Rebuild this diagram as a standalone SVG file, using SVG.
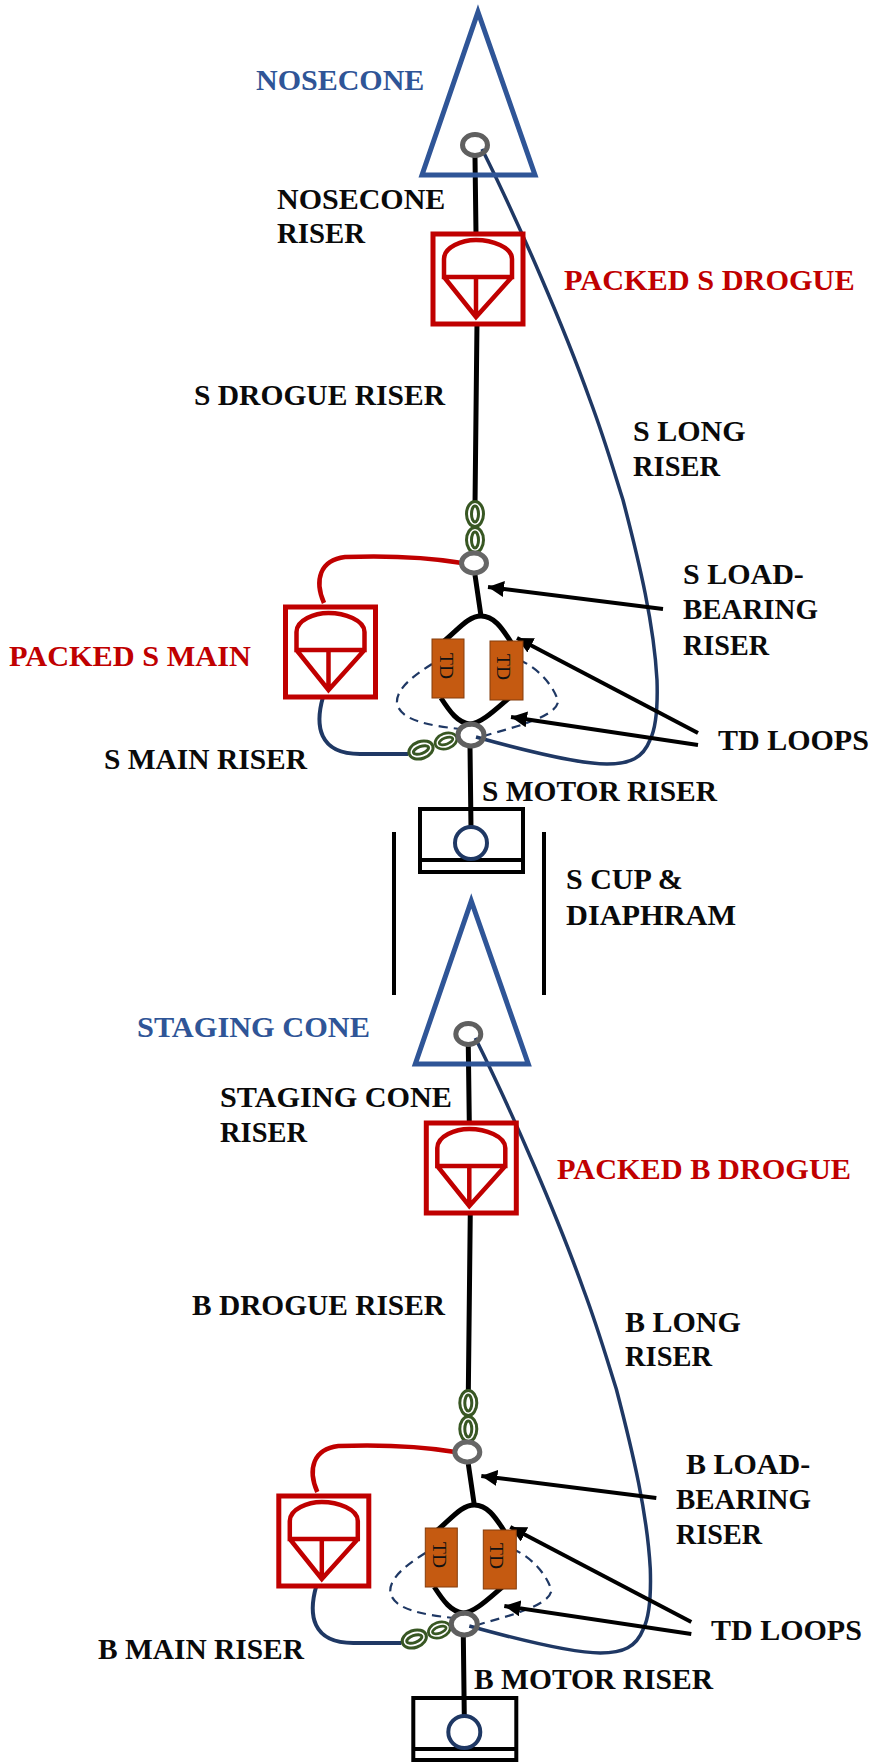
<svg xmlns="http://www.w3.org/2000/svg" width="872" height="1762" viewBox="0 0 872 1762">
<style>
text{font-family:"Liberation Serif","Times New Roman",serif;font-size:30px;font-weight:bold;fill:#0a0a0a;lengthAdjust:spacingAndGlyphs}
.b{fill:#2f5597}text.r{fill:#c00000;font-size:30.3px}
.cone{fill:none;stroke:#2f5597;stroke-width:5}
.ring{fill:#fff;stroke:#666;stroke-width:5}
.ringo{fill:none;stroke:#5f5f5f;stroke-width:5}
.k{fill:none;stroke:#000;stroke-width:5}
.k4{fill:none;stroke:#000;stroke-width:4}
.red{fill:none;stroke:#c00000;stroke-width:4.5}
.navy{fill:none;stroke:#1f3864;stroke-width:4}
.thin{fill:none;stroke:#1f3864;stroke-width:3.5}
.dash{fill:none;stroke:#1f3864;stroke-width:2.2;stroke-dasharray:9 6}
.box{fill:#fff;stroke:#c00000;stroke-width:5}
.o{fill:#fff;stroke:#385723;stroke-width:3}
.td{fill:#c55a11;stroke:#843c0c;stroke-width:1}
text.tdt{font-size:19.5px;font-weight:normal;fill:#111;text-anchor:middle}
.arr{fill:none;stroke:#000;stroke-width:4;marker-end:url(#ah)}
</style>
<defs>
<marker id="ah" markerUnits="userSpaceOnUse" markerWidth="17" markerHeight="16" refX="16" refY="8" orient="auto"><path d="M0 0L16 8L0 16Z" fill="#000"/></marker>
<g id="chute">
<rect class="box" x="-45" y="-45" width="90" height="90"/>
<path class="red" d="M-34 -2V-20C-34 -32 -16 -39 -2 -39C14 -39 34 -32 34 -20V-2ZM-34 -2L-2 38L34 -2M-2 -2V38"/>
</g>
<g id="link"><ellipse class="o" rx="8.5" ry="12.5"/><ellipse class="o" rx="3.5" ry="8"/></g>
<g id="section-connectors">
<path class="k" d="M475 157L476 234M477 322L475 505M475 575L481 616"/>
<path class="k" d="M443 642C458 630 468 616 481 616C495 616 503 630 511 642M441 698C450 712 458 723 470 724C482 723 497 708 509 698M470 746L471 828"/>
<path class="red" d="M462 563C420 556 373 556 345 557C320 560 314 580 324 603"/>
<path class="navy" d="M323 697C315 725 318 754 360 754L408 754"/>
<path class="thin" d="M482 149C520 225 565 330 590 400C605 440 615 475 623 500C640 565 654 625 657 680C658 710 655 730 650 740C643 758 630 764 607 764C580 764 530 752 476 737"/>
<path class="dash" d="M432 664C410 678 396 690 397 703C400 722 435 726 460 729M519 660C540 668 556 690 558 702C555 718 510 728 484 736"/>
<path class="arr" d="M663 609L488 587"/>
<path class="arr" d="M698 733L517 638"/>
<path class="arr" d="M698 745L511 717"/>
</g>
</defs>

<g id="connectors">
<use id="s-connectors" href="#section-connectors"/>
<use id="b-connectors" href="#section-connectors" transform="translate(-6.7 889)"/>
</g>

<g id="nosecone"><path class="cone" d="M478 12L535 175H422Z"/><ellipse class="ringo" cx="475" cy="145" rx="12.5" ry="10.5"/></g>
<g id="s-drogue-pack"><use href="#chute" x="478" y="279"/></g>
<g id="s-links-upper"><use href="#link" x="475" y="514"/><use href="#link" x="475" y="540"/></g>
<g id="s-ring-upper"><ellipse class="ring" cx="474" cy="563" rx="12.5" ry="10"/></g>
<g id="s-main-pack"><use href="#chute" x="330.5" y="652"/></g>
<g id="s-td-left"><rect class="td" x="432" y="639" width="32" height="59"/><text class="tdt" transform="translate(440 666) rotate(90)">TD</text></g>
<g id="s-td-right"><rect class="td" x="490" y="641" width="33" height="59"/><text class="tdt" transform="translate(497 667) rotate(90)">TD</text></g>
<g id="s-links-lower"><use href="#link" transform="translate(421 750) rotate(70)"/><use href="#link" transform="translate(446 741) rotate(70) scale(.9)"/></g>
<g id="s-ring-lower"><ellipse class="ringo" cx="471" cy="735" rx="13" ry="11"/></g>
<g id="s-cup"><rect class="k4" x="420" y="809" width="103" height="63"/><path class="k4" d="M420 860H523"/><circle cx="471" cy="843" r="16" fill="#fff" stroke="#1f3864" stroke-width="4"/></g>
<g id="s-cup-walls"><path class="k4" d="M394 832V995M544 832V995"/></g>

<g id="staging-cone"><path class="cone" d="M471.3 901L528.3 1064H415.3Z"/><ellipse class="ringo" cx="468.3" cy="1034" rx="12.5" ry="10.5"/></g>
<g id="b-drogue-pack"><use href="#chute" x="471.3" y="1168"/></g>
<g id="b-links-upper"><use href="#link" x="468.3" y="1403"/><use href="#link" x="468.3" y="1429"/></g>
<g id="b-ring-upper"><ellipse class="ring" cx="467.3" cy="1452" rx="12.5" ry="10"/></g>
<g id="b-main-pack"><use href="#chute" x="323.8" y="1541"/></g>
<g id="b-td-left"><rect class="td" x="425.3" y="1528" width="32" height="59"/><text class="tdt" transform="translate(433.3 1555) rotate(90)">TD</text></g>
<g id="b-td-right"><rect class="td" x="483.3" y="1530" width="33" height="59"/><text class="tdt" transform="translate(490.3 1556) rotate(90)">TD</text></g>
<g id="b-links-lower"><use href="#link" transform="translate(414.3 1639) rotate(70)"/><use href="#link" transform="translate(439.3 1630) rotate(70) scale(.9)"/></g>
<g id="b-ring-lower"><ellipse class="ringo" cx="464.3" cy="1624" rx="13" ry="11"/></g>
<g id="b-cup"><rect class="k4" x="413.3" y="1698" width="103" height="62"/><path class="k4" d="M413.3 1749H516.3"/><circle cx="464.3" cy="1732" r="16" fill="#fff" stroke="#1f3864" stroke-width="4"/></g>

<g id="labels">
<text class="b" x="256" y="90">NOSECONE</text>
<text x="277" y="209">NOSECONE</text><text x="277" y="243" textLength="88" lengthAdjust="spacingAndGlyphs">RISER</text>
<text class="r" x="564" y="290">PACKED S DROGUE</text>
<text x="194" y="405" textLength="251" lengthAdjust="spacingAndGlyphs">S DROGUE RISER</text>
<text x="633" y="441">S LONG</text><text x="633" y="476" textLength="87" lengthAdjust="spacingAndGlyphs">RISER</text>
<text x="683" y="584">S LOAD-</text><text x="683" y="619" textLength="135" lengthAdjust="spacingAndGlyphs">BEARING</text><text x="683" y="655" textLength="86" lengthAdjust="spacingAndGlyphs">RISER</text>
<text class="r" x="9" y="666">PACKED S MAIN</text>
<text x="104" y="769" textLength="203" lengthAdjust="spacingAndGlyphs">S MAIN RISER</text>
<text x="718" y="750">TD LOOPS</text>
<text x="482" y="801" textLength="235" lengthAdjust="spacingAndGlyphs">S MOTOR RISER</text>
<text x="566" y="889">S CUP &amp;</text><text x="566" y="925" textLength="170" lengthAdjust="spacingAndGlyphs">DIAPHRAM</text>
<text class="b" x="137" y="1037" textLength="233" lengthAdjust="spacingAndGlyphs">STAGING CONE</text>
<text x="220" y="1107" textLength="232" lengthAdjust="spacingAndGlyphs">STAGING CONE</text><text x="220" y="1142" textLength="87" lengthAdjust="spacingAndGlyphs">RISER</text>
<text class="r" x="557" y="1179">PACKED B DROGUE</text>
<text x="192" y="1315" textLength="253" lengthAdjust="spacingAndGlyphs">B DROGUE RISER</text>
<text x="625" y="1332">B LONG</text><text x="625" y="1366" textLength="87" lengthAdjust="spacingAndGlyphs">RISER</text>
<text x="686" y="1474">B LOAD-</text><text x="676" y="1509" textLength="135" lengthAdjust="spacingAndGlyphs">BEARING</text><text x="676" y="1544" textLength="86" lengthAdjust="spacingAndGlyphs">RISER</text>
<text x="98" y="1659" textLength="206" lengthAdjust="spacingAndGlyphs">B MAIN RISER</text>
<text x="711" y="1640">TD LOOPS</text>
<text x="474" y="1689" textLength="239" lengthAdjust="spacingAndGlyphs">B MOTOR RISER</text>
</g>
</svg>
